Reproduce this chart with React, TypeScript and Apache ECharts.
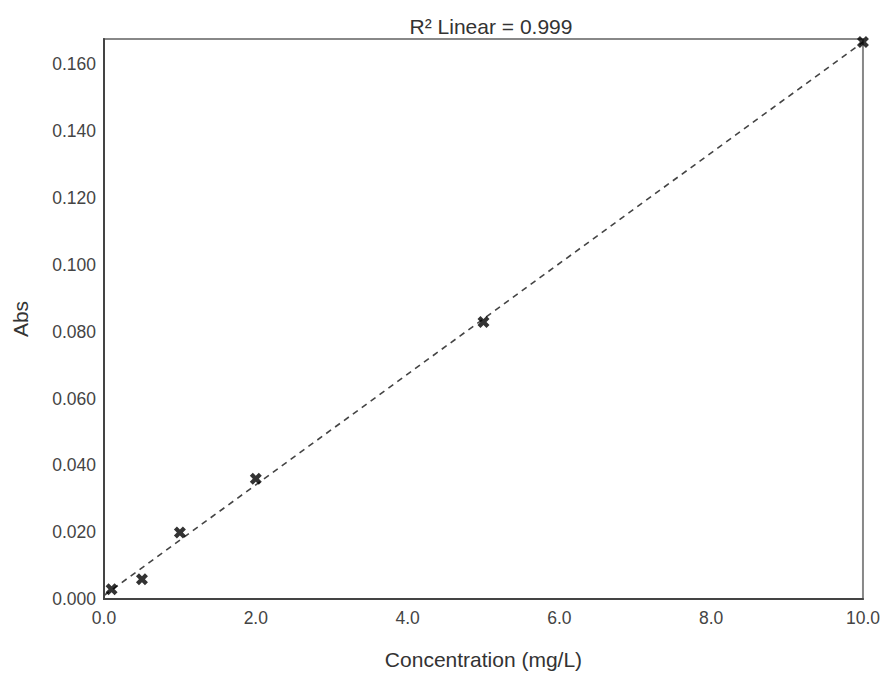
import React, { useEffect, useRef } from "react";
import * as echarts from "echarts";

const concentration = [0.1, 0.5, 1.0, 2.0, 5.0, 10.0];
const absorbance = [0.0029, 0.0059, 0.0199, 0.036, 0.0829, 0.1667];
const titleText = "R² Linear = 0.999";
const xName = "Concentration (mg/L)";
const yName = "Abs";

function fitLine(xs: number[], ys: number[]) {
  const n = xs.length;
  const mx = xs.reduce((a, b) => a + b, 0) / n;
  const my = ys.reduce((a, b) => a + b, 0) / n;
  let sxy = 0;
  let sxx = 0;
  for (let i = 0; i < n; i++) {
    sxy += (xs[i] - mx) * (ys[i] - my);
    sxx += (xs[i] - mx) * (xs[i] - mx);
  }
  const m = sxy / sxx;
  const b = my - m * mx;
  return { m, b };
}

export default function App() {
  const ref = useRef<HTMLDivElement>(null);
  useEffect(() => {
    if (!ref.current) return;
    const chart = echarts.init(ref.current, undefined, { renderer: "svg" });
    const { m, b } = fitLine(concentration, absorbance);
    const xMin = 0;
    const xMax = 10;
    const font = "'Liberation Sans', Arial, sans-serif";
    chart.setOption({
      animation: false,
      backgroundColor: "#ffffff",
      title: {
        text: titleText,
        left: 486,
        top: 11,
        textAlign: "center",
        textStyle: {
          fontFamily: font,
          fontSize: 21,
          fontWeight: "normal",
          color: "#333",
        },
      },
      grid: {
        left: 104,
        top: 39,
        right: 16,
        bottom: 76,
        show: true,
        borderColor: "#888",
        borderWidth: 2,
        backgroundColor: "#fff",
      },
      xAxis: {
        type: "value",
        min: 0,
        max: 10,
        interval: 2,
        name: xName,
        nameLocation: "middle",
        nameGap: 50,
        nameTextStyle: { fontFamily: font, fontSize: 21, color: "#333" },
        axisLine: { show: true, onZero: false, lineStyle: { color: "#444", width: 2 } },
        axisTick: { show: false },
        splitLine: { show: false },
        axisLabel: {
          fontFamily: font,
          fontSize: 17.5,
          color: "#444",
          margin: 10,
          formatter: (v: number) => v.toFixed(1),
        },
      },
      yAxis: {
        type: "value",
        min: 0,
        max: 0.1676,
        interval: 0.02,
        name: yName,
        nameLocation: "middle",
        nameGap: 73,
        nameTextStyle: { fontFamily: font, fontSize: 21, color: "#333" },
        axisLine: { show: true, onZero: false, lineStyle: { color: "#444", width: 2 } },
        axisTick: { show: false },
        splitLine: { show: false },
        axisLabel: {
          fontFamily: font,
          fontSize: 17.5,
          color: "#444",
          margin: 8,
          showMaxLabel: false,
          formatter: (v: number) => v.toFixed(3),
        },
      },
      series: [
        {
          type: "line",
          data: [
            [xMin, b + m * xMin],
            [xMax, b + m * xMax],
          ],
          symbol: "none",
          lineStyle: { color: "#444", width: 1.6, type: [6, 5] },
          silent: true,
          z: 2,
        },
        {
          type: "scatter",
          data: concentration.map((x, i) => [x, absorbance[i]]),
          symbol:
            "path://M0,3 L3,0 L6,3 L9,0 L12,3 L9,6 L12,9 L9,12 L6,9 L3,12 L0,9 L3,6 Z",
          symbolSize: 12,
          itemStyle: { color: "#000" },
          z: 3,
        },
      ],
    });
    return () => chart.dispose();
  }, []);
  return <div ref={ref} style={{ width: 883, height: 675, position: "absolute", left: 0, top: 0 }} />;
}
